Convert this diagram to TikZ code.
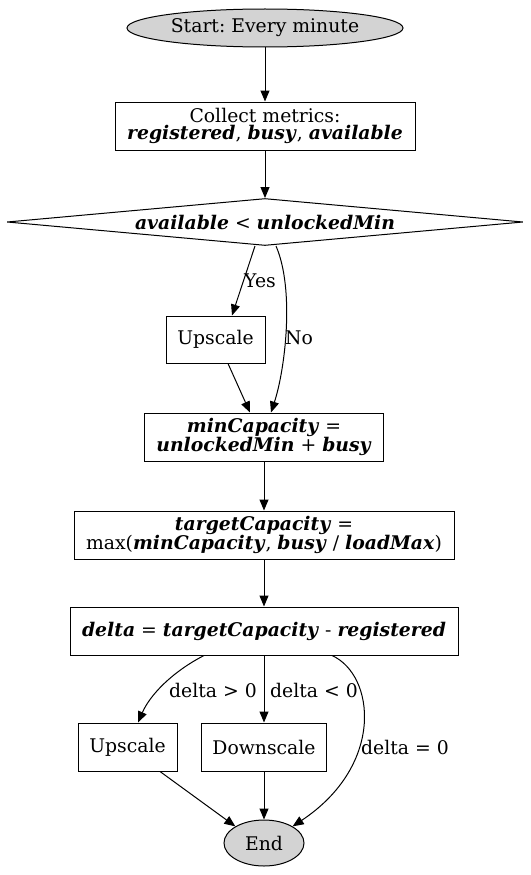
\documentclass[tikz,border=0pt]{standalone}
\usepackage{fontspec}
\setmainfont{DejaVu Serif}
\usetikzlibrary{shapes.geometric,arrows.meta,calc}
\newcommand{\bi}[1]{\textbf{\textit{#1}}}
\begin{document}
\frenchspacing
\begin{tikzpicture}[x=1pt,y=-1pt,
  font=\fontsize{18.8}{17}\selectfont,
  every node/.style={inner sep=0pt, align=center},
  term/.style={ellipse, draw, fill={rgb,255:red,211;green,211;blue,211}, line width=1pt},
  box/.style={rectangle, draw, line width=1pt},
  dec/.style={diamond, draw, aspect=10, line width=1pt},
  arr/.style={line width=1pt, -{Triangle[length=11pt,width=9pt]}},
  lbl/.style={inner sep=0pt}]
\useasboundingbox (0,0) rectangle (530,875);
\node[term, minimum width=276pt, minimum height=38pt] (start) at (265,28) {Start: Every minute};
\node[box, minimum width=300pt, minimum height=48pt] (collect) at (265,126) {Collect metrics:\\ \bi{registered}, \bi{busy}, \bi{available}};
\node[dec, minimum width=516pt, minimum height=47pt] (cond) at (265,222) {\bi{available} < \bi{unlockedMin}};
\node[box, minimum width=99pt, minimum height=47pt] (up1) at (215.5,339.5) {Upscale};
\node[box, minimum width=239pt, minimum height=48pt] (minc) at (264,437) {\bi{minCapacity} =\\ \bi{unlockedMin} + \bi{busy}};
\node[box, minimum width=380pt, minimum height=48pt] (target) at (264,535) {\bi{targetCapacity} =\\ max(\bi{minCapacity}, \bi{busy} / \bi{loadMax})};
\node[box, minimum width=388pt, minimum height=48pt] (delta) at (264,631) {\bi{delta} = \bi{targetCapacity} - \bi{registered}};
\node[box, minimum width=99pt, minimum height=48pt] (up2) at (127.5,747) {Upscale};
\node[box, minimum width=125pt, minimum height=48pt] (down) at (264,747) {Downscale};
\node[term, minimum width=80pt, minimum height=46pt] (end) at (264,843) {End};

\draw[arr] (start) -- (collect);
\draw[arr] (collect) -- (cond);
\draw[arr] ($(cond.south)+(-10,0)$) -- ($(up1.north)+(16.5,0)$);
\node[lbl] (yes) at (260,281) {Yes};
\draw[arr] ($(cond.south)+(11,0)$) .. controls (295,290) and (285,370) .. ($(minc.north)+(7,0)$);
\node[lbl] (no) at (299,338) {No};
\draw[arr] ($(up1.south)+(12.5,0)$) -- ($(minc.north)+(-14,0)$);
\draw[arr] (minc) -- (target);
\draw[arr] (target) -- (delta);
\draw[arr] ($(delta.south)+(-60,0)$) .. controls (172,672) and (150,695) .. ($(up2.north)+(10.5,0)$);
\node[lbl] (gt) at (213,690) {delta > 0};
\draw[arr] (delta.south) -- (down.north);
\node[lbl] (lt) at (314,690) {delta < 0};
\draw[arr] ($(delta.south)+(68,0)$) .. controls (375,675) and (385,765) .. (end.north east);
\node[lbl] (eq) at (405,747) {delta = 0};
\draw[arr] ($(up2.south)+(32.5,0)$) -- (end.north west);
\draw[arr] (down.south) -- (end.north);
\end{tikzpicture}
\end{document}
